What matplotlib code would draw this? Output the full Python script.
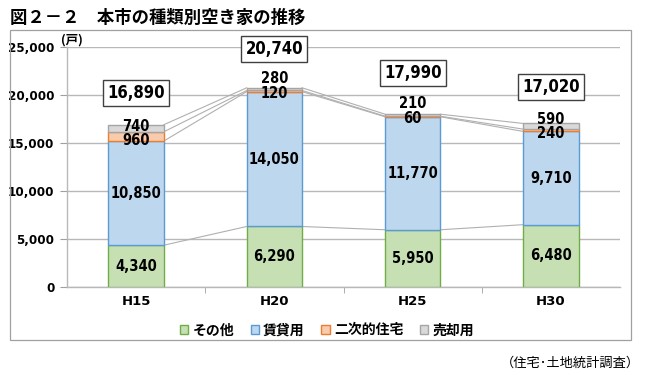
import matplotlib.pyplot as plt
from matplotlib.patches import Rectangle
import numpy as np

plt.rcParams['font.family'] = ['Noto Sans CJK JP', 'DejaVu Sans']

years = ["H15", "H20", "H25", "H30"]
sonota = [4340, 6290, 5950, 6480]
chintai = [10850, 14050, 11770, 9710]
niji = [960, 120, 60, 240]
baikyaku = [740, 280, 210, 590]
series_names = ["その他", "賃貸用", "二次的住宅", "売却用"]

fills = ["#c6e0b4", "#bdd7ee", "#f8cbad", "#d9d9d9"]
edges = ["#70ad47", "#5b9bd5", "#ed7d31", "#a5a5a5"]

fig = plt.figure(figsize=(6.5, 3.75), dpi=100)
# outer frame
fig.patches.append(Rectangle((0.015, 0.093), 0.955, 0.827, transform=fig.transFigure,
                             fill=False, edgecolor="#a0a0a0", lw=0.9))
ax = fig.add_axes([0.103, 0.235, 0.851, 0.64])

x = np.arange(len(years))
w = 0.4
data = [sonota, chintai, niji, baikyaku]
bottom = np.zeros(len(years))
tops = []
for vals, fc, ec, name in zip(data, fills, edges, series_names):
    ax.bar(x, vals, w, bottom=bottom, color=fc, edgecolor=ec, lw=1.0, label=name, zorder=3)
    bottom = bottom + np.array(vals)
    tops.append(bottom.copy())

# series lines
for level in tops:
    for i in range(len(years) - 1):
        ax.plot([x[i] + w / 2, x[i + 1] - w / 2], [level[i], level[i + 1]],
                color="#b0b0b0", lw=0.8, zorder=2)

numfont = dict(fontsize=10.5, fontweight="bold", fontstretch="condensed",
               family=["DejaVu Sans"], color="black")

# segment labels (small segments nudged apart)
nudge = {(2, 1): -300, (3, 1): 1100, (2, 2): -250, (3, 2): 1250,
         (2, 3): -300, (3, 3): 700, (2, 0): -400, (3, 0): 200}
base = np.zeros(len(years))
for k, vals in enumerate(data):
    for i, v in enumerate(vals):
        yc = base[i] + v / 2 + nudge.get((k, i), 0)
        ax.text(x[i], yc, f"{v:,}", ha="center", va="center", zorder=5, **numfont)
    base = base + np.array(vals)

# totals in boxes
totals = tops[-1]
total_y = [20200, 24750, 22300, 20800]
for i, t in enumerate(totals):
    ax.text(x[i], total_y[i], f"{int(t):,}", ha="center", va="center", zorder=5,
            fontsize=12, fontweight="bold", fontstretch="condensed", family=["DejaVu Sans"],
            bbox=dict(boxstyle="square,pad=0.25", fc="white", ec="#404040", lw=1.0))

ax.set_xlim(-0.5, 3.5)
ax.set_ylim(0, 25000)
ax.set_yticks(range(0, 25001, 5000))
ax.set_yticklabels([f"{v:,}" for v in range(0, 25001, 5000)], fontsize=9.5,
                   fontweight="bold", family=["DejaVu Sans"], fontstretch="condensed")
ax.set_xticks(x)
ax.set_xticklabels(years, fontsize=9.5, fontweight="bold", family=["DejaVu Sans"])
ax.tick_params(axis="x", length=0, pad=6)
ax.tick_params(axis="y", length=5, color="#a0a0a0", pad=4)
ax.set_xticks([0.5, 1.5, 2.5], minor=True)
ax.tick_params(axis="x", which="minor", length=4, color="#a0a0a0")
ax.grid(axis="y", color="#b8b8b8", lw=1.0, zorder=0)
for s in ["top", "right"]:
    ax.spines[s].set_visible(False)
for s in ["left", "bottom"]:
    ax.spines[s].set_color("#b8b8b8")
    ax.spines[s].set_linewidth(1.0)

ax.text(-0.01, 1.0, "(戸)", transform=ax.transAxes, ha="left", va="bottom", fontsize=9,
        fontweight="bold")

leg = ax.legend(loc="upper center", bbox_to_anchor=(0.47, -0.1), ncol=4, frameon=False,
                fontsize=10, handlelength=0.6, handleheight=0.6, handletextpad=0.3,
                columnspacing=1.2, prop=dict(weight="bold", size=10))

fig.text(0.015, 0.975, "図２－２　本市の種類別空き家の推移", ha="left", va="top",
         fontsize=12.5, fontweight="bold")
fig.text(0.985, 0.015, "（住宅･土地統計調査）", ha="right", va="bottom", fontsize=9.5)

fig.savefig("out.png", dpi=100)
